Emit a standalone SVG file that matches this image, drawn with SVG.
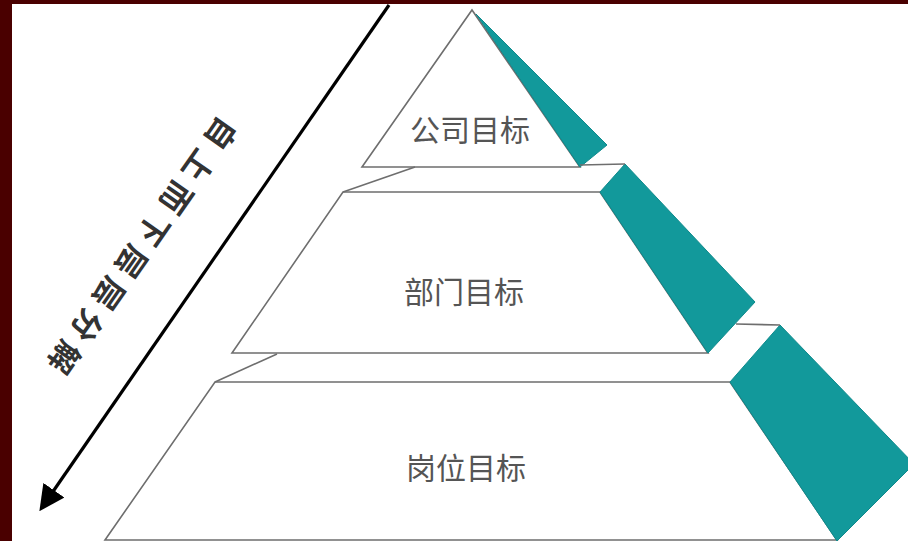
<svg xmlns="http://www.w3.org/2000/svg" width="908" height="541" viewBox="0 0 908 541">
<defs>
<style>
.edge{fill:none;stroke:#6e6e6e;stroke-width:1.6;stroke-linejoin:miter}
.face{fill:#ffffff;stroke:#6e6e6e;stroke-width:1.6}
.teal{fill:#12999b;stroke:#0f8a8c;stroke-width:1}
.lbl{font-family:"Noto Sans CJK SC","Noto Sans",sans-serif;font-size:30px;fill:#555555;text-anchor:middle;dominant-baseline:central}
.side{font-family:"Noto Sans CJK SC","Noto Sans",sans-serif;font-size:31px;font-weight:bold;fill:#333333;text-anchor:middle;dominant-baseline:central;letter-spacing:8px}
</style>
<marker id="ah" markerWidth="8" markerHeight="8" refX="6" refY="4" orient="auto" markerUnits="strokeWidth">
<path d="M0,0 L8,4 L0,8 Z" fill="#000"/>
</marker>
</defs>
<rect x="0" y="0" width="908" height="541" fill="#ffffff"/>
<rect x="0" y="0" width="908" height="4" fill="#4a0000"/>
<rect x="0" y="0" width="12" height="541" fill="#4a0000"/>

<g id="tier3">
<polygon class="face" points="215,382 730,382 837,540 105,540"/>
<polygon class="teal" points="730,382 780,325 914,464 837,541"/>
<text class="lbl" x="466" y="466">岗位目标</text>
</g>
<g id="tier2">
<polygon class="face" points="343,192 600,192 708,353 232,353"/>
<polygon class="teal" points="600,192 625,164 755,302 708,353"/>
<text class="lbl" x="464" y="290">部门目标</text>
</g>
<g id="tier1">
<polygon class="face" points="472,10 580,167 362,167"/>
<polygon class="teal" points="476,14 607,145 580,167"/>
<text class="lbl" x="470" y="128">公司目标</text>
</g>

<g id="connectors">
<polyline class="edge" points="415,167 343,192"/>
<polyline class="edge" points="580,165 625,164"/>
<polyline class="edge" points="277,354 215,382"/>
<polyline class="edge" points="736,324 780,325"/>
<line x1="389" y1="5" x2="43" y2="506" stroke="#000" stroke-width="3.2" marker-end="url(#ah)"/>
</g>

<g id="side-label">
<text class="side" transform="translate(142,250) rotate(125)" x="0" y="0">自上而下层层分解</text>
</g>
</svg>
